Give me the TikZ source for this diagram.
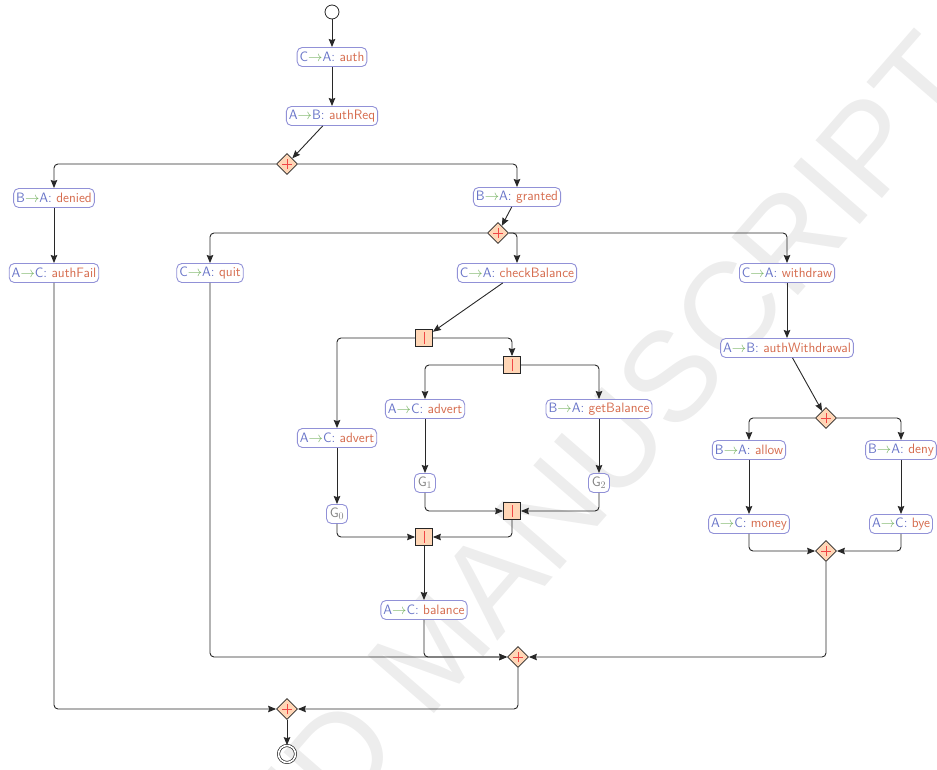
\documentclass[tikz,border=0pt]{standalone}
\usepackage{fontspec}
\usetikzlibrary{arrows.meta,shapes.geometric}
\newfontfamily\wmfont{Liberation Sans}
\definecolor{pblue}{RGB}{104,116,200}
\definecolor{pborder}{RGB}{145,145,215}
\definecolor{pgreen}{RGB}{120,180,100}
\definecolor{porange}{RGB}{214,108,78}
\definecolor{gfill}{RGB}{255,214,182}
\definecolor{gplus}{RGB}{240,70,70}
\definecolor{eline}{RGB}{40,40,40}
\newcommand{\msgtxt}[3]{\textcolor{pblue}{#1}\textcolor{pgreen}{$\rightarrow$}\textcolor{pblue}{#2:} \textcolor{porange}{#3}}
\begin{document}
\begin{tikzpicture}[x=1pt,y=-1pt,
  msgbox/.style={draw=pborder, line width=0.9pt, rounded corners=5pt, fill=white,
    inner xsep=2.5pt, inner ysep=0pt, minimum height=19pt,
    font=\sffamily\fontsize{13.6}{15}\selectfont},
  gbox/.style={msgbox, text=gray, minimum width=21pt, inner xsep=1.5pt},
  xorgw/.style={diamond, draw=black!85, fill=gfill, line width=0.8pt, inner sep=0pt,
    minimum width=21pt, minimum height=21pt,
    path picture={\draw[gplus, line width=0.9pt]
      (path picture bounding box.center) ++(-5pt,0pt) -- ++(10pt,0pt)
      (path picture bounding box.center) ++(0pt,-5pt) -- ++(0pt,10pt);}},
  pargw/.style={rectangle, draw=black!85, fill=gfill, line width=0.8pt, inner sep=0pt,
    minimum width=17pt, minimum height=17pt,
    path picture={\draw[gplus, line width=1pt]
      (path picture bounding box.center) ++(0pt,-6pt) -- ++(0pt,12pt);}},
  startnode/.style={circle, draw=black!85, line width=0.8pt, minimum size=14pt, inner sep=0pt},
  endnode/.style={circle, draw=black!85, line width=0.7pt, double, double distance=1.6pt,
    minimum size=17pt, inner sep=0pt},
  flow/.style={draw=eline, line width=0.9pt, rounded corners=4pt,
    -{Stealth[length=8pt,width=6.5pt,inset=1pt]}}
]
\useasboundingbox (0,0) rectangle (937,770);
\clip (0,0) rectangle (937,770);
\node[rotate=49, text=gray!14, font=\wmfont\fontsize{128}{128}\selectfont] (wm) at (432,650) {ACCEPTED MANUSCRIPT};

% nodes
\node[startnode] (st) at (332,12) {};
\node[msgbox] (auth) at (332,57) {\msgtxt{C}{A}{auth}};
\node[msgbox] (authReq) at (332,116) {\msgtxt{A}{B}{authReq}};
\node[xorgw] (x1) at (287,164) {};
\node[msgbox] (denied) at (54,198) {\msgtxt{B}{A}{denied}};
\node[msgbox] (granted) at (517,197) {\msgtxt{B}{A}{granted}};
\node[msgbox] (authFail) at (54,273) {\msgtxt{A}{C}{authFail}};
\node[xorgw] (x2) at (498,233) {};
\node[msgbox] (quit) at (210,273) {\msgtxt{C}{A}{quit}};
\node[msgbox] (checkB) at (517,273) {\msgtxt{C}{A}{checkBalance}};
\node[msgbox] (withdraw) at (787,273) {\msgtxt{C}{A}{withdraw}};
\node[pargw] (p1) at (424,338) {};
\node[msgbox] (authW) at (787,348) {\msgtxt{A}{B}{authWithdrawal}};
\node[pargw] (p2) at (512,365) {};
\node[msgbox] (advM) at (425,409) {\msgtxt{A}{C}{advert}};
\node[msgbox] (getB) at (599,409) {\msgtxt{B}{A}{getBalance}};
\node[xorgw] (x3) at (826,418) {};
\node[msgbox] (advL) at (337,438) {\msgtxt{A}{C}{advert}};
\node[msgbox] (allow) at (749,450) {\msgtxt{B}{A}{allow}};
\node[msgbox] (deny) at (901,450) {\msgtxt{B}{A}{deny}};
\node[gbox] (G1) at (425,483) {G$_1$};
\node[gbox] (G2) at (599,483) {G$_2$};
\node[pargw] (p3) at (512,511) {};
\node[gbox] (G0) at (337,514) {G$_0$};
\node[msgbox] (money) at (749,524) {\msgtxt{A}{C}{money}};
\node[msgbox] (bye) at (901,524) {\msgtxt{A}{C}{bye}};
\node[pargw] (p4) at (424,537) {};
\node[xorgw] (x4) at (826,551) {};
\node[msgbox] (balance) at (424,610) {\msgtxt{A}{C}{balance}};
\node[xorgw] (x5) at (518,657) {};
\node[xorgw] (x6) at (287,709) {};
\node[endnode] (en) at (287,754) {};

% connectors
\draw[flow] (st) -- (auth);
\draw[flow] (auth) -- (authReq);
\draw[flow] (authReq) -- (x1);
\draw[flow] (x1) -| (denied);
\draw[flow] (x1) -| (granted);
\draw[flow] (denied) -- (authFail);
\draw[flow] (granted) -- (x2);
\draw[flow] (x2) -| (quit);
\draw[flow] (x2) -| (checkB);
\draw[flow] (x2) -| (withdraw);
\draw[flow] (checkB) -- (p1);
\draw[flow] (p1) -| (advL);
\draw[flow] (p1) -| (p2);
\draw[flow] (p2) -| (advM);
\draw[flow] (p2) -| (getB);
\draw[flow] (advM) -- (G1);
\draw[flow] (getB) -- (G2);
\draw[flow] (advL) -- (G0);
\draw[flow] (G1) |- (p3);
\draw[flow] (G2) |- (p3);
\draw[flow] (G0) |- (p4);
\draw[flow] (p3) |- (p4);
\draw[flow] (p4) -- (balance);
\draw[flow] (balance) |- (x5);
\draw[flow] (quit) |- (x5);
\draw[flow] (withdraw) -- (authW);
\draw[flow] (authW) -- (x3);
\draw[flow] (x3) -| (allow);
\draw[flow] (x3) -| (deny);
\draw[flow] (allow) -- (money);
\draw[flow] (deny) -- (bye);
\draw[flow] (money) |- (x4);
\draw[flow] (bye) |- (x4);
\draw[flow] (x4) |- (x5);
\draw[flow] (x5) |- (x6);
\draw[flow] (authFail) |- (x6);
\draw[flow] (x6) -- (en);
\end{tikzpicture}
\end{document}
